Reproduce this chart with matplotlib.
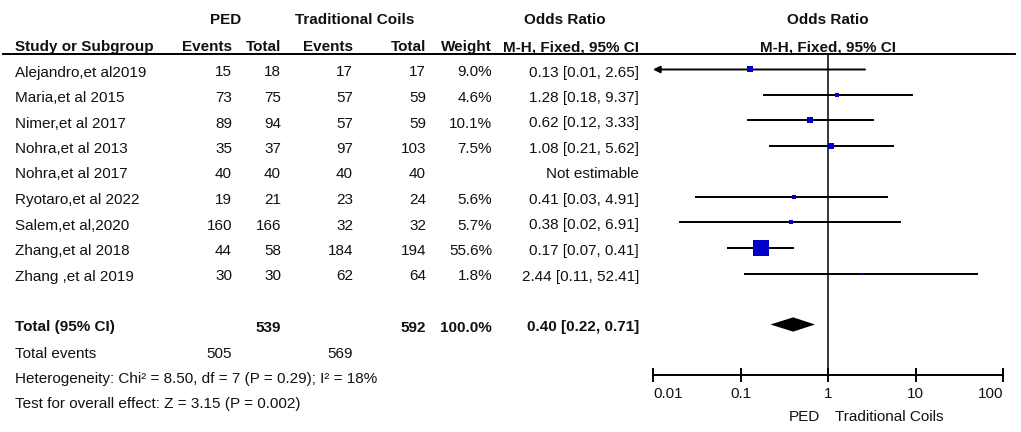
import matplotlib
matplotlib.use("Agg")
import matplotlib.pyplot as plt
import numpy as np

plt.rcParams['font.family'] = ['Liberation Sans Narrow', 'Liberation Sans', 'DejaVu Sans']

# ---------------- data ----------------
studies = ["Alejandro,et al2019", "Maria,et al 2015", "Nimer,et al 2017", "Nohra,et al 2013",
           "Nohra,et al 2017", "Ryotaro,et al 2022", "Salem,et al,2020", "Zhang,et al 2018",
           "Zhang ,et al 2019"]
ped_events = [15, 73, 89, 35, 40, 19, 160, 44, 30]
ped_total = [18, 75, 94, 37, 40, 21, 166, 58, 30]
tc_events = [17, 57, 57, 97, 40, 23, 32, 184, 62]
tc_total = [17, 59, 59, 103, 40, 24, 32, 194, 64]
weights = [9.0, 4.6, 10.1, 7.5, None, 5.6, 5.7, 55.6, 1.8]
odds = [0.13, 1.28, 0.62, 1.08, None, 0.41, 0.38, 0.17, 2.44]
ci_lo = [0.01, 0.18, 0.12, 0.21, None, 0.03, 0.02, 0.07, 0.11]
ci_hi = [2.65, 9.37, 3.33, 5.62, None, 4.91, 6.91, 0.41, 52.41]

total_ped = 539
total_tc = 592
total_weight = 100.0
total_or, total_lo, total_hi = 0.40, 0.22, 0.71
events_ped = 505
events_tc = 569
heterogeneity = "Heterogeneity: Chi\u00b2 = 8.50, df = 7 (P = 0.29); I\u00b2 = 18%"
overall = "Test for overall effect: Z = 3.15 (P = 0.002)"

tick_vals = [0.01, 0.1, 1, 10, 100]
tick_labels = ["0.01", "0.1", "1", "10", "100"]
favours_left = "PED"
favours_right = "Traditional Coils"

# ---------------- layout ----------------
W, H = 1021, 432
fig = plt.figure(figsize=(W / 100, H / 100), dpi=100)
bg = fig.add_axes([0, 0, 1, 1])
bg.set_xlim(0, W)
bg.set_ylim(H, 0)
bg.axis('off')

FS = 11
TXT = '#111111'
row0, dy = 72.5, 25.5       # text row centre pixels
bar_off = -3.0              # bars sit slightly above text centre
header_line_y = 54
axis_y = 375

col_x = dict(pe=232, pt=281, te=353, tt=426, w=492, orr=639)
name_x = 15

def txt(x, y, s, ha='left', bold=False, **kw):
    bg.text(x, y, s, ha=ha, va='center', fontsize=FS,
            fontweight='bold' if bold else 'normal', color=TXT, **kw)

# headers
txt(226, 20, "PED", ha='center', bold=True)
txt(355, 20, "Traditional Coils", ha='center', bold=True)
txt(565, 20, "Odds Ratio", ha='center', bold=True)
txt(828, 20, "Odds Ratio", ha='center', bold=True)
txt(name_x, 47, "Study or Subgroup", bold=True)
txt(col_x['pe'], 47, "Events", ha='right', bold=True)
txt(col_x['pt'], 47, "Total", ha='right', bold=True)
txt(col_x['te'], 47, "Events", ha='right', bold=True)
txt(col_x['tt'], 47, "Total", ha='right', bold=True)
txt(col_x['w'], 47, "Weight", ha='right', bold=True)
txt(col_x['orr'], 47, "M-H, Fixed, 95% CI", ha='right', bold=True)
txt(828, 47, "M-H, Fixed, 95% CI", ha='center', bold=True)
bg.plot([3, 1015], [header_line_y, header_line_y], color='black', lw=1.4)

for i, name in enumerate(studies):
    y = row0 + dy * i
    txt(name_x, y, name)
    txt(col_x['pe'], y, str(ped_events[i]), ha='right')
    txt(col_x['pt'], y, str(ped_total[i]), ha='right')
    txt(col_x['te'], y, str(tc_events[i]), ha='right')
    txt(col_x['tt'], y, str(tc_total[i]), ha='right')
    if weights[i] is not None:
        txt(col_x['w'], y, f"{weights[i]:.1f}%", ha='right')
        txt(col_x['orr'], y, f"{odds[i]:.2f} [{ci_lo[i]:.2f}, {ci_hi[i]:.2f}]", ha='right')
    else:
        txt(col_x['orr'], y, "Not estimable", ha='right')

ty = row0 + dy * 10
txt(name_x, ty, "Total (95% CI)", bold=True)
txt(col_x['pt'], ty, str(total_ped), ha='right', bold=True)
txt(col_x['tt'], ty, str(total_tc), ha='right', bold=True)
txt(col_x['w'], ty, f"{total_weight:.1f}%", ha='right', bold=True)
txt(col_x['orr'], ty, f"{total_or:.2f} [{total_lo:.2f}, {total_hi:.2f}]", ha='right', bold=True)

txt(name_x, 354, "Total events")
txt(col_x['pe'], 354, str(events_ped), ha='right')
txt(col_x['te'], 354, str(events_tc), ha='right')
txt(name_x, 379, heterogeneity)
txt(name_x, 404, overall)

txt(820, 417, favours_left, ha='right')
txt(835, 417, favours_right, ha='left')

# ---------------- forest axes ----------------
x0, x1 = 653, 1003
bar_row0 = row0 + bar_off
y_top_idx = (header_line_y - bar_row0) / dy
y_bot_idx = (axis_y - bar_row0) / dy
ax = fig.add_axes([x0 / W, 1 - axis_y / H, (x1 - x0) / W, (axis_y - header_line_y) / H])
ax.set_facecolor('none')
ax.set_xscale('log')
ax.set_xlim(tick_vals[0], tick_vals[-1])
ax.set_ylim(y_bot_idx, y_top_idx)
for s in ['top', 'left', 'right']:
    ax.spines[s].set_visible(False)
ax.spines['bottom'].set_linewidth(1.4)
ax.set_yticks([])
ax.set_xticks(tick_vals)
ax.set_xticklabels(tick_labels, fontsize=FS, color=TXT)
ax.xaxis.set_minor_locator(matplotlib.ticker.NullLocator())
ax.tick_params(axis='x', direction='inout', length=10, width=1.4, pad=4)
labs = ax.get_xticklabels()
labs[0].set_horizontalalignment('left')
labs[-1].set_horizontalalignment('right')

ax.axvline(1, color='black', lw=1.1, zorder=1)

blue = '#0000C8'
k = 11.0 / np.sqrt(55.6)
for i in range(len(studies)):
    if odds[i] is None:
        continue
    lo = max(ci_lo[i], tick_vals[0])
    hi = min(ci_hi[i], tick_vals[-1])
    if ci_lo[i] <= tick_vals[0]:
        ax.annotate('', xy=(tick_vals[0], i), xytext=(hi, i),
                    arrowprops=dict(arrowstyle='-|>', color='black', lw=1.4,
                                    mutation_scale=10, shrinkA=0, shrinkB=0),
                    annotation_clip=False, zorder=2)
    else:
        ax.plot([lo, hi], [i, i], color='black', lw=1.4, zorder=2, solid_capstyle='butt')
    ax.plot([odds[i]], [i], marker='s', color=blue, markersize=k * np.sqrt(weights[i]),
            markeredgewidth=0, zorder=3, clip_on=False)

h = 0.28
ax.fill([total_lo, total_or, total_hi, total_or], [10, 10 - h, 10, 10 + h],
        color='black', zorder=3, lw=0)

fig.savefig("out.png", dpi=100)
